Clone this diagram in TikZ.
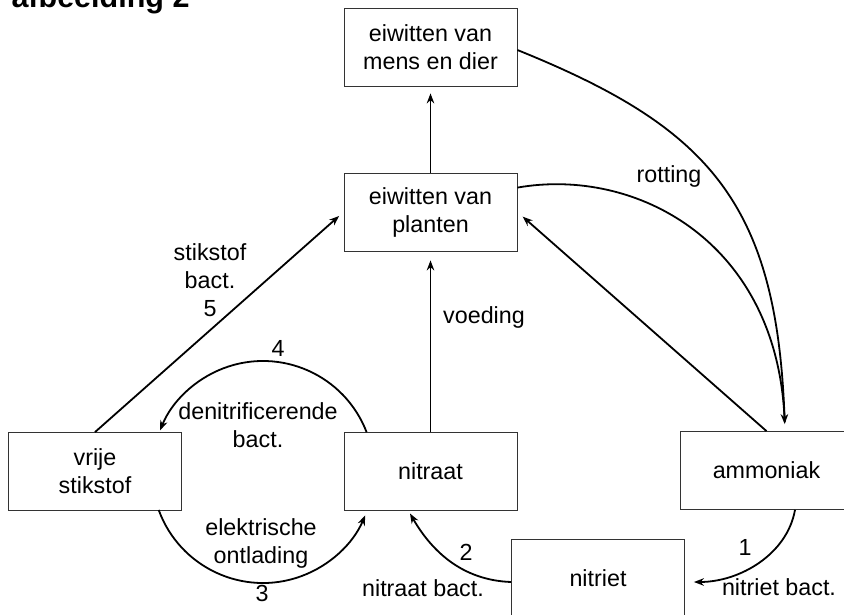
\documentclass[tikz,border=0pt]{standalone}
\usepackage{fontspec}
\setmainfont{Liberation Sans}
\usetikzlibrary{arrows.meta}

\begin{document}
\begin{tikzpicture}[x=1pt,y=1pt,
     >={Stealth[length=10pt,width=7.5pt]},
     font=\fontsize{23.3}{28}\selectfont,
     box/.style={draw=black!80,line width=0.8pt,minimum width=173pt,minimum height=78pt,align=center,inner sep=0pt},
     flow/.style={line width=1.8pt}]
     \useasboundingbox (0,0) rectangle (844,614);
     \node[anchor=base west,font=\bfseries\fontsize{30.5}{36}\selectfont] (title) at (8,606.5) {afbeelding 2};
     \node[box] (mens)     at (430.5,567)   {eiwitten van\\mens en dier};
     \node[box] (planten)  at (430.5,402)   {eiwitten van\\planten};
     \node[box] (vrij)     at (95,142.5)    {vrije\\stikstof};
     \node[box] (nitraat)  at (430.5,142.5) {nitraat};
     \node[box] (ammoniak) at (766.5,143.5) {ammoniak};
     \node[box] (nitriet)  at (598,36)      {nitriet};
     \coordinate (ring) at (263,142);
     \coordinate (landing) at ([xshift=18.5pt]ammoniak.north);
     \draw[flow,->,shorten >=7pt] (planten.north) -- (mens.south);
     \draw[flow,->,shorten >=9pt] (nitraat.north) -- (planten.south);
     \draw[flow,->,shorten >=6pt] (vrij.north) -- (planten.west);
     \draw[flow,->,shorten >=7pt] (ammoniak.north) -- (planten.east);
     \draw[flow,->,shorten >=7pt] ([yshift=-3pt]mens.east) to[out=-22,in=92,out distance=205pt,in distance=230pt] (landing);
     \draw[flow,shorten >=9pt] ([yshift=-15pt]planten.north east) to[out=10,in=92,out distance=120pt,in distance=190pt] (landing);
     \draw[flow,->] ([shift={(21:111)}]ring) arc[start angle=21,end angle=158,radius=111];
     \draw[flow,->] ([shift={(200:111)}]ring) arc[start angle=200,end angle=337,radius=111];
     \draw[flow,->,shorten >=9pt] ([xshift=28.5pt]ammoniak.south) to[out=-100,in=0,out distance=45pt,in distance=55pt] ([yshift=-4pt]nitriet.east);
     \draw[flow,->,shorten >=3pt] ([yshift=-4pt]nitriet.west) to[out=178,in=-60,out distance=50pt,in distance=45pt] ([xshift=-22pt]nitraat.south);
     \node (lvoeding) at (484,297) {voeding};
     \node (lrotting) at (669,438) {rotting};
     \node[align=center] (lstikstof) at (210,334) {stikstof\\bact.\\5};
     \node (lvier) at (278,266) {4};
     \node[align=center] (ldenitri) at (258,189) {denitrificerende\\bact.};
     \node[align=center] (lelektr) at (261,70.5) {elektrische\\ontlading};
     \node (ldrie) at (262,21) {3};
     \node (leen) at (745,67) {1};
     \node (ltwee) at (466,62) {2};
     \node (lnitriet) at (779,27) {nitriet bact.};
     \node (lnitraat) at (423,26) {nitraat bact.};
\end{tikzpicture}
\end{document}
